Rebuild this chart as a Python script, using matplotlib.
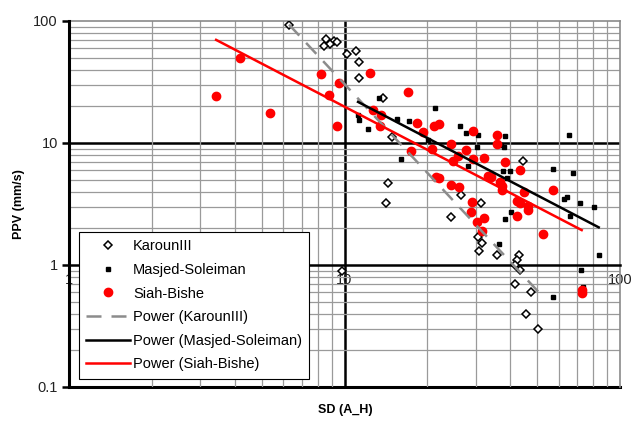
import numpy as np
import matplotlib
matplotlib.use("Agg")
import matplotlib.pyplot as plt
from matplotlib.ticker import LogLocator, FixedLocator, NullFormatter, FixedFormatter

plt.rcParams['font.family'] = ['Liberation Sans', 'DejaVu Sans']

# ---- DATA ----
karoun_sd = [6.29, 8.57, 9.16, 8.86, 8.42, 9.37, 10.2, 11.0, 11.3, 11.3, 13.8, 14.9,
             14.4, 14.2, 26.5, 31.2, 44.6, 24.3, 30.6, 31.5, 30.9, 35.9, 43.1, 42.4,
             41.6, 43.4, 41.7, 47.4, 45.6, 50.5, 9.77]
karoun_ppv = [92.7, 71.2, 68.6, 64.4, 62.8, 67.6, 53.9, 57.1, 46.1, 33.9, 23.3, 11.1,
              4.67, 3.24, 3.75, 3.24, 7.12, 2.49, 1.71, 1.51, 1.31, 1.21, 1.21, 1.10,
              1.0, 0.91, 0.695, 0.597, 0.40, 0.297, 0.90]

masjed_sd = [11.2, 11.3, 12.2, 13.3, 15.5, 17.1, 21.3, 20.1, 16.1, 26.3, 27.6, 30.6,
             30.2, 28.1, 38.4, 37.0, 37.8, 37.5, 39.9, 38.8, 65.3, 57.0, 67.3, 64.1,
             62.8, 71.8, 80.5, 65.9, 40.1, 38.4, 36.5, 83.7, 72.4, 73.2, 57.0]
masjed_ppv = [17.0, 15.4, 13.0, 23.5, 15.7, 15.1, 19.3, 10.6, 7.35, 13.9, 12.1, 11.6,
              9.33, 6.48, 11.4, 9.6, 9.2, 5.9, 5.9, 5.2, 11.7, 6.16, 5.71, 3.63,
              3.46, 3.24, 2.97, 2.52, 2.72, 2.40, 1.49, 1.21, 0.91, 0.66, 0.55]

siah_sd = [3.42, 4.18, 5.37, 8.22, 9.57, 8.76, 9.39, 12.4, 12.7, 13.6, 13.4, 17.0,
           18.4, 19.2, 21.2, 22.1, 17.5, 20.7, 24.4, 27.6, 29.2, 25.9, 24.8, 29.2,
           32.1, 35.7, 35.7, 21.5, 22.1, 24.4, 26.0, 29.1, 33.3, 34.0, 38.2, 43.4,
           36.7, 37.2, 37.2, 44.8, 57.3, 28.7, 32.1, 30.2, 31.6, 42.2, 43.4, 46.2,
           46.2, 42.2, 52.4, 72.6, 72.6]
siah_ppv = [24.3, 50.0, 17.5, 36.8, 30.9, 24.7, 13.9, 37.7, 18.6, 16.9, 13.8, 26.3,
            14.5, 12.4, 13.9, 14.2, 8.6, 8.93, 9.82, 8.76, 12.6, 7.82, 7.12, 7.35,
            7.49, 11.6, 9.9, 5.3, 5.2, 4.53, 4.39, 3.26, 5.4, 5.3, 6.95, 6.0,
            4.82, 4.44, 4.12, 3.99, 4.12, 2.70, 2.44, 2.24, 1.91, 3.37, 3.2, 3.05,
            2.82, 2.54, 1.79, 0.59, 0.62]

# power trendlines y = a * x^b (as shown on the chart)
karoun_fit = (8000.0, -2.42)
masjed_fit = (373.0, -1.177)
siah_fit = (297.0, -1.175)

x_ticks = [1, 10, 100]
x_labels = ["1", "10", "100"]
y_ticks = [0.1, 1, 10, 100]
y_labels = ["0.1", "1", "10", "100"]


def power_line(xs, fit):
    xx = np.logspace(np.log10(min(xs)), np.log10(max(xs)), 100)
    return xx, fit[0] * xx ** fit[1]


fig = plt.figure(figsize=(6.33, 4.21), dpi=100)
ax = fig.add_axes([69 / 633, 1 - 387 / 421, (620 - 69) / 633, (387 - 21) / 421])
ax.set_xscale("log")
ax.set_yscale("log")
ax.set_xlim(1, 100)
ax.set_ylim(0.1, 100)

# grid: grey minor, black major
ax.xaxis.set_minor_locator(LogLocator(base=10, subs=np.arange(2, 10)))
ax.yaxis.set_minor_locator(LogLocator(base=10, subs=np.arange(2, 10)))
ax.grid(which="minor", color="#9a9a9a", lw=0.9, zorder=0)
ax.axvline(10, color="black", lw=1.8, zorder=1)
ax.axhline(10, color="black", lw=1.8, zorder=1)
ax.axhline(0.1, color="black", lw=2.2, zorder=1, clip_on=False)
ax.tick_params(which="minor", length=0)

ax.plot(karoun_sd, karoun_ppv, ls="none", marker="D", ms=4.3, mfc="white",
        mec="black", mew=1.1, label="KarounIII", zorder=3)
ax.plot(masjed_sd, masjed_ppv, ls="none", marker="s", ms=3.5, mfc="black",
        mec="black", label="Masjed-Soleiman", zorder=3)
ax.plot(siah_sd, siah_ppv, ls="none", marker="o", ms=6, mfc="red",
        mec="red", label="Siah-Bishe", zorder=3)

xx, yy = power_line(karoun_sd, karoun_fit)
ax.plot(xx, yy, color="#8c8c8c", lw=1.8, dashes=(6, 4), label="Power (KarounIII)", zorder=4)
xx, yy = power_line(masjed_sd, masjed_fit)
ax.plot(xx, yy, color="black", lw=1.8, label="Power (Masjed-Soleiman)", zorder=4)
xx, yy = power_line(siah_sd, siah_fit)
ax.plot(xx, yy, color="red", lw=1.8, label="Power (Siah-Bishe)", zorder=4)

# axes: x-axis crosses at PPV = 1
ax.spines["bottom"].set_position(("data", 1))
ax.spines["bottom"].set_linewidth(1.8)
ax.spines["left"].set_linewidth(2.2)
ax.spines["left"].set_zorder(5)
for s in ["top", "right"]:
    ax.spines[s].set_color("#8a8a8a")
    ax.spines[s].set_linewidth(1.2)

ax.xaxis.set_major_locator(FixedLocator(x_ticks))
ax.xaxis.set_major_formatter(FixedFormatter(x_labels))
ax.xaxis.set_minor_formatter(NullFormatter())
ax.yaxis.set_major_locator(FixedLocator(y_ticks))
ax.yaxis.set_major_formatter(FixedFormatter(y_labels))
ax.yaxis.set_minor_formatter(NullFormatter())
ax.tick_params(axis="x", which="major", length=0, pad=6, labelsize=10.5, colors="#222222")
ax.tick_params(axis="y", which="major", length=5, width=1.8, pad=3, labelsize=10.5, colors="black")
for t in ax.get_yticklabels():
    t.set_color("#222222")
for t in ax.get_xticklabels():
    t.set_zorder(0)

ax.set_ylabel("PPV (mm/s)", fontsize=9, fontweight="bold", labelpad=6)
fig.text(0.545, 0.026, "SD (A_H)", fontsize=9, fontweight="bold", ha="center", va="center")

leg = ax.legend(loc="upper left", bbox_to_anchor=(79 / 633, 1 - 232 / 421),
                bbox_transform=fig.transFigure, borderaxespad=0, fontsize=10.5,
                frameon=True, fancybox=False, edgecolor="black", framealpha=1,
                handlelength=3.0, numpoints=1, labelspacing=0.66, borderpad=0.5,
                handletextpad=0.2)
leg.get_frame().set_linewidth(0.8)
leg.set_zorder(10)

fig.savefig("out.png", dpi=100)
